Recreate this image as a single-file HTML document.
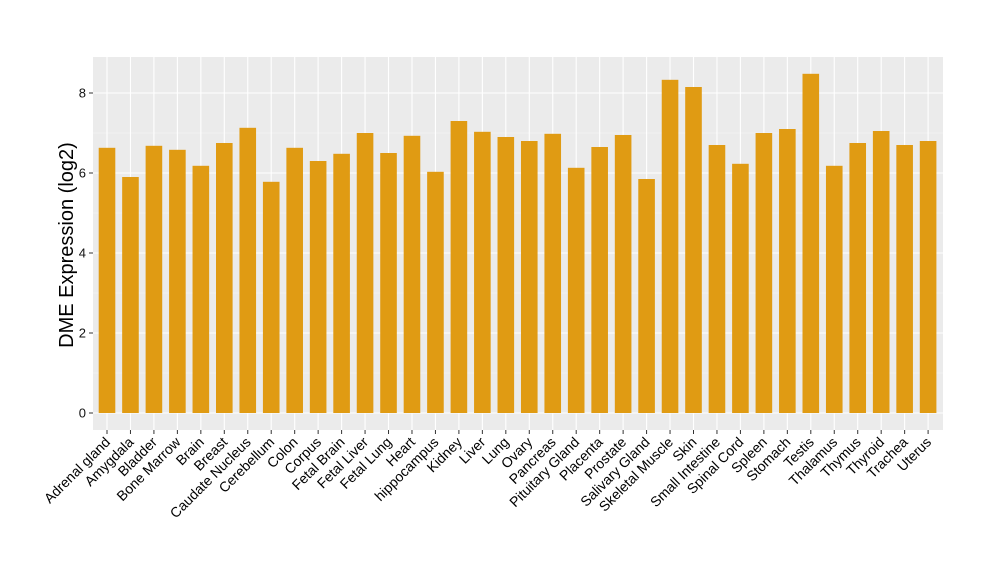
<!DOCTYPE html>
<html><head><meta charset="utf-8"><style>body{margin:0;background:#fff}</style></head><body>
<svg width="1000" height="580" xmlns="http://www.w3.org/2000/svg" font-family="Liberation Sans, sans-serif">
<rect x="93" y="57" width="850" height="373" fill="#ebebeb"/>
<g id="g"></g>
<g id="b"></g>
<g id="t"></g>
<text transform="translate(73,245) rotate(-90)" text-anchor="middle" font-size="20" fill="#000">DME Expression (log2)</text>
</svg>
<script>
const names=["Adrenal gland","Amygdala","Bladder","Bone Marrow","Brain","Breast","Caudate Nucleus","Cerebellum","Colon","Corpus","Fetal Brain","Fetal Liver","Fetal Lung","Heart","hippocampus","Kidney","Liver","Lung","Ovary","Pancreas","Pituitary Gland","Placenta","Prostate","Salivary Gland","Skeletal Muscle","Skin","Small Intestine","Spinal Cord","Spleen","Stomach","Testis","Thalamus","Thymus","Thyroid","Trachea","Uterus"];
const v=[6.63,5.9,6.68,6.58,6.18,6.75,7.13,5.78,6.63,6.3,6.48,7.0,6.5,6.93,6.03,7.3,7.03,6.9,6.8,6.98,6.13,6.65,6.95,5.85,8.33,8.15,6.7,6.23,7.0,7.1,8.48,6.18,6.75,7.05,6.7,6.8];
const ns="http://www.w3.org/2000/svg";
function el(p,t,a,txt){const e=document.createElementNS(ns,t);for(const k in a)e.setAttribute(k,a[k]);if(txt!==undefined)e.textContent=txt;document.getElementById(p).appendChild(e);}
const Y=u=>413-40*u, X=i=>107+i*23.46;
for(let u=1;u<=7;u+=2)el("g","line",{x1:93,x2:943,y1:Y(u),y2:Y(u),stroke:"#f7f7f7","stroke-width":0.6});
for(let u=0;u<=8;u+=2){el("g","line",{x1:93,x2:943,y1:Y(u),y2:Y(u),stroke:"#fff","stroke-width":1.1});
el("t","line",{x1:89,x2:93,y1:Y(u),y2:Y(u),stroke:"#333"});
el("t","text",{x:86,y:Y(u)+4.5,"text-anchor":"end","font-size":13,fill:"#111"},u);}
names.forEach((n,i)=>{const x=X(i);
el("g","line",{x1:x,x2:x,y1:57,y2:430,stroke:"#fff","stroke-width":1.1});
el("b","rect",{x:x-8.3,y:Y(v[i]),width:16.6,height:Y(0)-Y(v[i]),fill:"#e09b13"});
el("t","line",{x1:x,x2:x,y1:430,y2:434,stroke:"#333"});
el("t","text",{transform:`translate(${x+4},${443}) rotate(-45)`,"text-anchor":"end","font-size":14,fill:"#000"},n);});
</script>
</body></html>
